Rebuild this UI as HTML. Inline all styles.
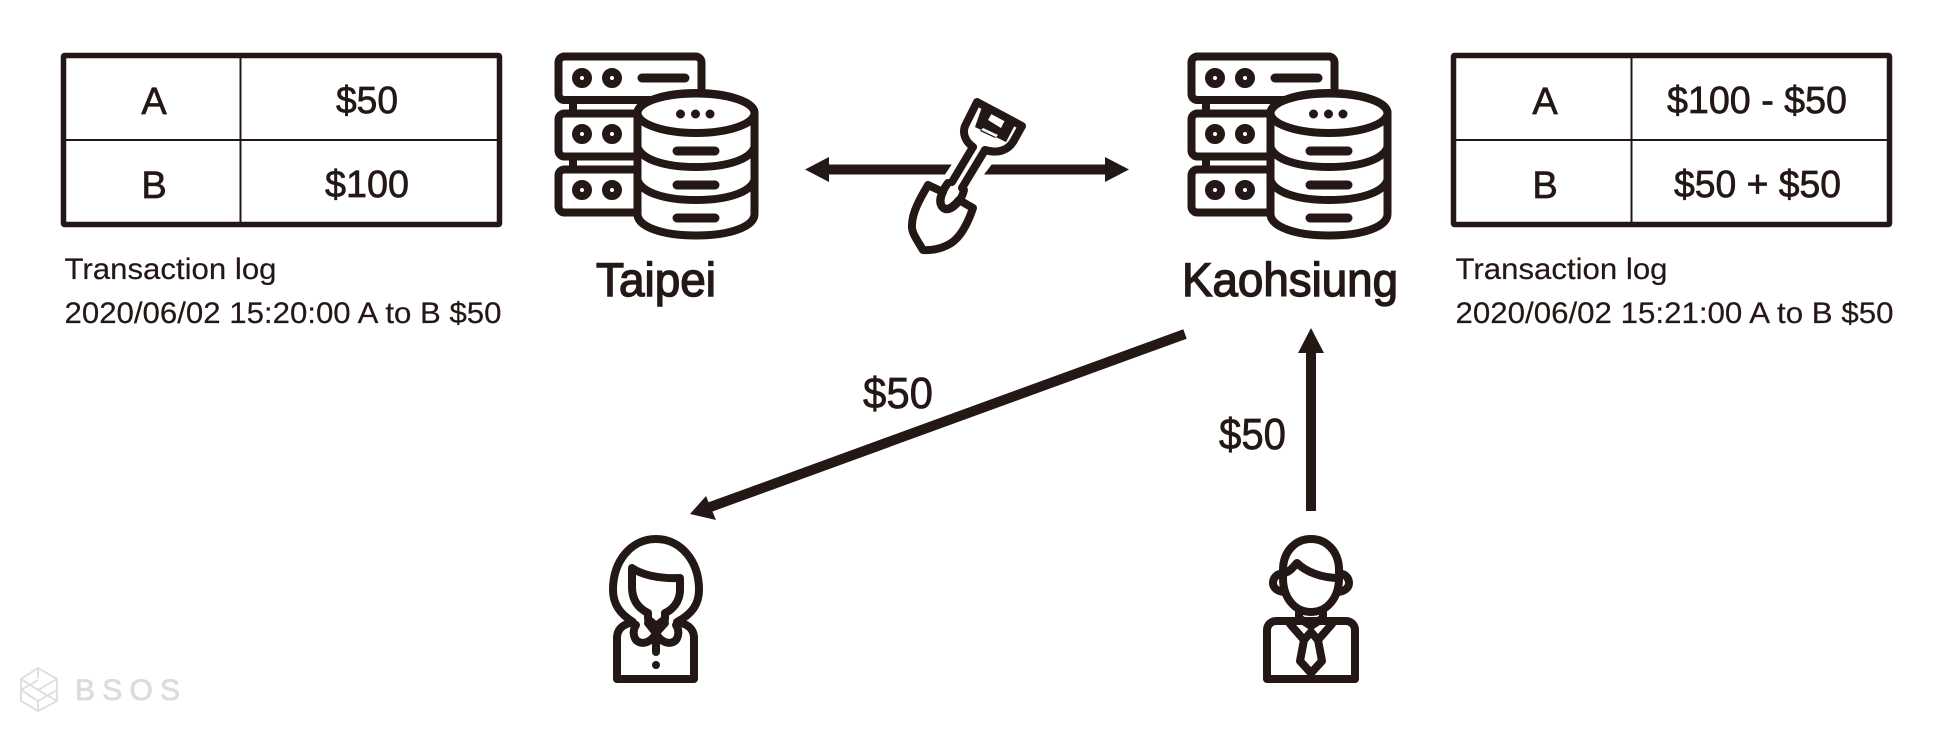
<!DOCTYPE html>
<html>
<head>
<meta charset="utf-8">
<style>
html,body{margin:0;padding:0;background:#fff;width:1960px;height:730px;overflow:hidden}
svg{display:block}
text{font-family:"Liberation Sans",sans-serif;fill:#231815}
.t{stroke:#231815;stroke-width:.7}
.l{stroke:#231815;stroke-width:.2}
.c{stroke:#231815;fill:none;stroke-width:8;stroke-linecap:round;stroke-linejoin:round}
.w{fill:#fff}
</style>
</head>
<body>
<svg width="1960" height="730" viewBox="0 0 1960 730" xmlns="http://www.w3.org/2000/svg">
<defs>
<g id="srv">
  <path d="M569 100h8v14h-8zM569 156h8v14h-8z" fill="#231815"/>
  <rect class="c w" x="558.500" y="56.500" width="143" height="43.500" rx="6"/>
  <rect class="c w" x="558.500" y="113.500" width="143" height="43" rx="6"/>
  <rect class="c w" x="558.500" y="169.500" width="143" height="43" rx="6"/>
  <g class="c">
    <circle cx="582" cy="78" r="6"/><circle cx="612" cy="78" r="6"/>
    <circle cx="582" cy="134" r="6"/><circle cx="612" cy="134" r="6"/>
    <circle cx="582" cy="190" r="6"/><circle cx="612" cy="190" r="6"/>
  </g>
  <path class="c" d="M642 78H685" style="stroke-width:9"/>
  <path d="M637.500 113C637.500 102 664 93.500 696 93.500S754.500 102 754.500 113V214C754.500 227 729 235.500 696 235.500S637.500 227 637.500 214Z" class="c w"/>
  <ellipse class="c" cx="696" cy="113" rx="58.500" ry="20"/>
  <path class="c" d="M637.500 147C642 160 666 167 696 167S750 160 754.500 147"/>
  <path class="c" d="M637.500 180C642 193 666 200 696 200S750 193 754.500 180"/>
  <path class="c" d="M677 151H715M677 185H715M677 218H715" style="stroke-width:9"/>
  <circle cx="680.500" cy="114" r="4.500" fill="#231815"/><circle cx="695.500" cy="114" r="4.500" fill="#231815"/><circle cx="710" cy="114" r="4.500" fill="#231815"/>
</g>
</defs>

<!-- left table -->
<rect x="63.500" y="55.500" width="436" height="169" rx="1" fill="none" stroke="#231815" stroke-width="5.500"/>
<path d="M240.500 56V224M64 140H499" stroke="#231815" stroke-width="2" fill="none"/>
<text class="t" x="154" y="114" font-size="38" text-anchor="middle">A</text>
<text class="t" x="154" y="198" font-size="38" text-anchor="middle">B</text>
<text class="t" x="336" y="113" font-size="38" textLength="62" lengthAdjust="spacingAndGlyphs">$50</text>
<text class="t" x="325" y="197" font-size="38" textLength="84" lengthAdjust="spacingAndGlyphs">$100</text>
<text class="l" x="64.500" y="279" font-size="30" textLength="212" lengthAdjust="spacingAndGlyphs">Transaction log</text>
<text class="l" x="64.500" y="323" font-size="30" textLength="437" lengthAdjust="spacingAndGlyphs">2020/06/02 15:20:00 A to B $50</text>

<!-- right table -->
<rect x="1453.500" y="55.500" width="436" height="169" rx="1" fill="none" stroke="#231815" stroke-width="5.500"/>
<path d="M1631.500 56V224M1455 140H1890" stroke="#231815" stroke-width="2" fill="none"/>
<text class="t" x="1545" y="114" font-size="38" text-anchor="middle">A</text>
<text class="t" x="1545" y="198" font-size="38" text-anchor="middle">B</text>
<text class="t" x="1667" y="113" font-size="38" textLength="180" lengthAdjust="spacingAndGlyphs">$100 - $50</text>
<text class="t" x="1674" y="197" font-size="38" textLength="167" lengthAdjust="spacingAndGlyphs">$50 + $50</text>
<text class="l" x="1455.500" y="279" font-size="30" textLength="212" lengthAdjust="spacingAndGlyphs">Transaction log</text>
<text class="l" x="1455.500" y="323" font-size="30" textLength="438" lengthAdjust="spacingAndGlyphs">2020/06/02 15:21:00 A to B $50</text>

<!-- servers -->
<use href="#srv"/>
<use href="#srv" x="633"/>
<text x="596" y="296" font-size="47" textLength="120" lengthAdjust="spacingAndGlyphs" stroke="#231815" stroke-width="1.400">Taipei</text>
<text x="1182" y="296" font-size="47" textLength="216" lengthAdjust="spacingAndGlyphs" stroke="#231815" stroke-width="1.400">Kaohsiung</text>

<!-- double arrow -->
<path d="M829 157L805 169.500L829 182V174.500H945L951.700 164.500H829Z" fill="#231815"/>
<path d="M1105 157L1129 169.500L1105 182V174.500H984L991.700 164.500H1105Z" fill="#231815"/>

<!-- shovel -->
<g class="c">
  <path d="M973 147L952 182"/>
  <path d="M985 150L962 188"/>
  <path d="M973 147C966 142 962 134 965 126L977 102L1022 126L1013 142C1008 150 998 154 985 150"/>
  <path d="M928 185L943 192C938 200 940 208 946 209C950 209 955 205 959 200L973 208C969 220 963 232 957 238C950 246 936 251 923 250C917 240 911 232 912 225C912 212 921 197 928 185Z"/>
  <path d="M948 183C941 192 937 205 945 209C952 211 962 200 964 190"/>
</g>
<path fill-rule="evenodd" fill="#231815" d="M983 104L1016 123L1006 142L975 127ZM992 113L988 120L1001 128L1005 120ZM983 128L980 131L995 138L998 135Z"/>

<!-- long arrow -->
<path d="M1185 334L702 510" stroke="#231815" stroke-width="10" fill="none"/>
<path d="M690 514L706 496L716 520Z" fill="#231815"/>
<text class="t" x="863" y="408" font-size="44" textLength="70" lengthAdjust="spacingAndGlyphs">$50</text>

<!-- up arrow -->
<path d="M1311 511V350" stroke="#231815" stroke-width="10" fill="none"/>
<path d="M1311 328L1324 353H1298Z" fill="#231815"/>
<text class="t" x="1219" y="449" font-size="44" textLength="67" lengthAdjust="spacingAndGlyphs">$50</text>

<!-- woman -->
<g class="c">
  <path d="M633 622C620 614 613 604 613 590C613 560 632 539 656 539C680 539 699 560 699 590C699 604 692 614 677 622"/>
  <path d="M632 568C642 575 660 579 680 578V590C680 602 672 610 665 613V619L656 626L648 619V613C638 608 632 600 632 587Z"/>
  <path d="M630 623C622 625 617 630 617 638V679H694V638C694 630 689 625 681 623"/>
  <path d="M648 623L656 633C652 642 642 646 636 640C632 634 634 628 636 625"/>
  <path d="M665 623L656 633C660 642 670 646 676 640C680 634 678 628 676 625"/>
  <path d="M656 633V652"/>
</g>
<circle cx="656" cy="665" r="4" fill="#231815"/>

<!-- man -->
<g class="c">
  <path d="M1283 578V570C1283 552 1295 539 1311 539C1327 539 1339 552 1339 570V578C1339 598 1327 612 1311 612C1295 612 1283 598 1283 578Z"/>
  <path d="M1285 573C1291 571 1294 566 1297 563C1306 572 1322 578 1339 578"/>
  <path d="M1283 574C1276 573 1273 579 1273 583C1273 588 1278 592 1285 592"/>
  <path d="M1339 574C1346 573 1349 579 1349 583C1349 588 1344 592 1337 592"/>
  <path d="M1276 621H1346C1351 621 1355 625 1355 630V679H1267V630C1267 625 1271 621 1276 621Z"/>
  <path d="M1299 612V618L1311 626L1323 618V612"/>
  <path d="M1290 624L1304 640L1311 632L1318 640L1332 624"/>
  <path d="M1304 640L1300 661L1311 673L1322 661L1318 640" />
</g>

<!-- logo -->
<path fill="none" stroke="#dcdcdc" stroke-width="1.800" stroke-linejoin="round" d="M38 668L57 679L38 690L21 679ZM21 679V690L38 701L57 690V679M21 690L38 680M38 668V678M57 690V701L38 711L21 701V690M38 701V711M38 690L57 701"/>
<text x="75" y="700" font-size="30" textLength="105" lengthAdjust="spacing" stroke="#dcdcdc" stroke-width=".8" style="fill:#dcdcdc">BSOS</text>
</svg>
</body>
</html>
